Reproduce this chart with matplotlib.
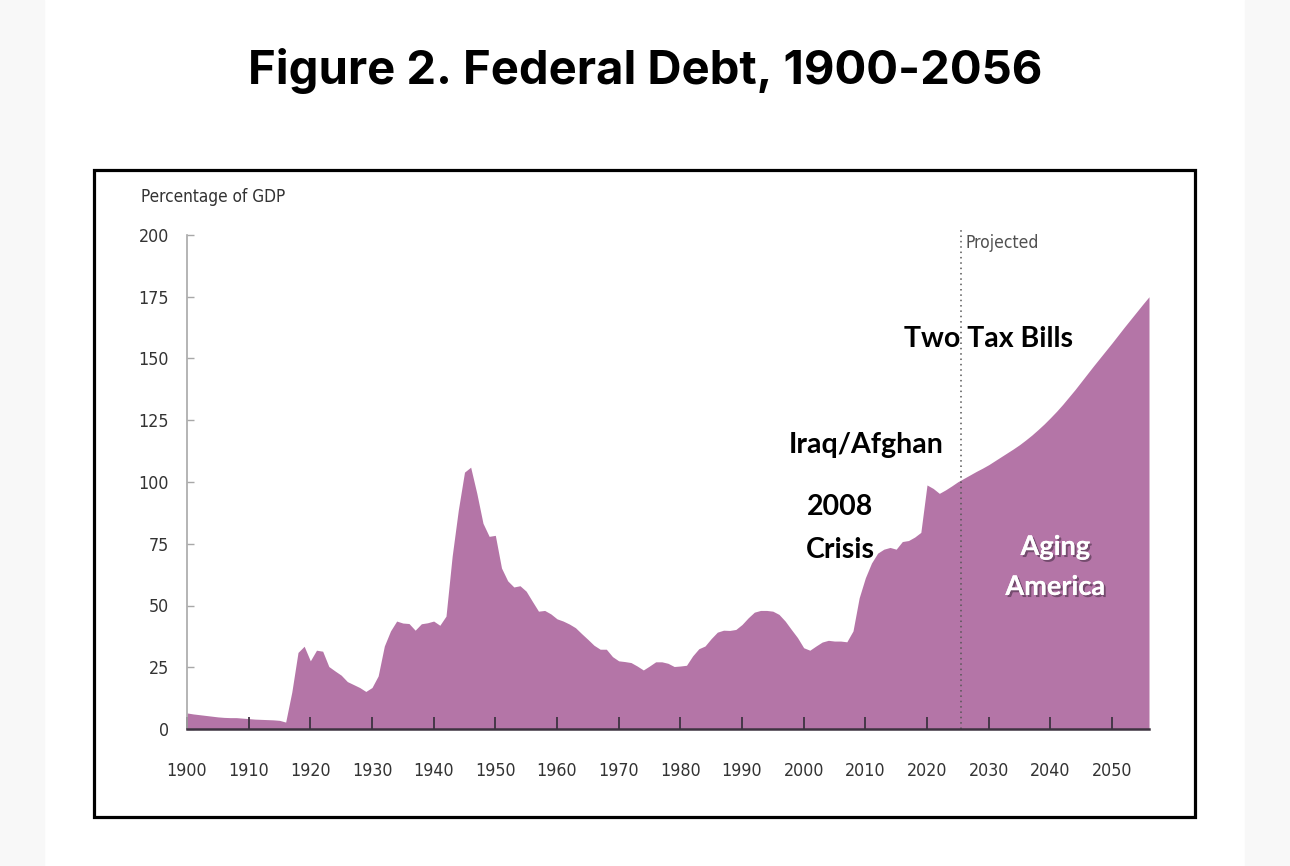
import matplotlib
matplotlib.use('Agg')
import matplotlib.pyplot as plt
import matplotlib.patheffects as pe
from matplotlib.patches import Rectangle
from matplotlib import font_manager

# federal debt held by the public, % of GDP
years = list(range(1900, 2057))
debt = [
    6.5, 6.1, 5.8, 5.5, 5.2, 4.9, 4.7, 4.6, 4.6, 4.4, 4.2, 4.0, 3.9, 3.8, 3.7, 3.5, 2.8,
    15, 31, 33.5, 27.6, 31.9, 31.5, 25.3, 23.5, 21.8, 19.2, 18, 16.8, 15.2,
    16.8, 21.5, 33.6, 39.7, 43.7, 42.9, 42.7, 40, 42.6, 43, 43.7, 42, 45.7,
    70, 88.7, 104, 106, 95.4, 83.3, 78, 78.4, 65.2, 60, 57.5, 58, 55.8, 51.7, 47.7, 48, 46.6,
    44.6, 43.7, 42.5, 41, 38.6, 36.3, 33.9, 32.3, 32.3, 29.3,
    27.6, 27.3, 26.9, 25.5, 23.9, 25.5, 27.2, 27.2, 26.6, 25.3,
    25.5, 25.8, 29.6, 32.5, 33.6, 36.6, 39.2, 40, 39.9, 40.3,
    42.3, 45, 47.3, 48, 48, 47.7, 46.4, 43.7, 40.3, 37,
    32.9, 31.9, 33.6, 35.2, 35.9, 35.6, 35.6, 35.3, 39.7, 53.1,
    61.2, 67.2, 71.2, 72.8, 73.5, 72.8, 75.9, 76.3, 77.7, 79.6,
    98.8, 97.4, 95.4, 96.8, 98.4, 100.1, 101.5, 102.9, 104.3, 105.6,
    107, 108.6, 110.2, 111.8, 113.4, 115.1, 117, 119, 121.2, 123.5,
    126, 128.6, 131.4, 134.4, 137.4, 140.6, 143.8, 147, 150.1, 153.2,
    156.3, 159.5, 162.7, 165.8, 168.9, 172, 175,
]
xticks = list(range(1900, 2051, 10))
yticks = [0, 25, 50, 75, 100, 125, 150, 175, 200]
proj_year = 2025.5

W, H = 1290, 866

# narrow font for axis text (the original uses a Calibri-like face)
narrow_file = None
for f in font_manager.fontManager.ttflist:
    if f.fname.endswith('DejaVuSansCondensed.ttf'):
        narrow_file = f.fname
if narrow_file:
    narrow = dict(fontproperties=font_manager.FontProperties(fname=narrow_file))
else:
    narrow = dict(family=['DejaVu Sans'], fontstretch='condensed')
bold = ['Lato', 'DejaVu Sans']

fig = plt.figure(figsize=(W / 100, H / 100), dpi=100)
fig.patch.set_facecolor('white')

# grey page margins
fig.patches.append(Rectangle((0, 0), 44 / W, 1, transform=fig.transFigure, color='#f8f8f8', zorder=0))
fig.patches.append(Rectangle((1245 / W, 0), 45 / W, 1, transform=fig.transFigure, color='#f8f8f8', zorder=0))
# black frame round the chart
fig.patches.append(Rectangle((94 / W, 1 - 817 / H), (1195 - 94) / W, (817 - 170) / H,
                             transform=fig.transFigure, fill=False, ec='black', lw=2.3, zorder=1))

ax = fig.add_axes([187 / W, 1 - 729 / H, (1149 - 187) / W, (729 - 235) / H])
ax.fill_between(years, 0, debt, color='#b475a7', lw=0)
ax.set_xlim(1900, 2056)
ax.set_ylim(0, 200)

ax.axvline(proj_year, ymin=0, ymax=1.01, color='#555555', lw=1.1, ls=(0, (1, 2.5)), clip_on=False)

for s in ['top', 'right']:
    ax.spines[s].set_visible(False)
ax.spines['left'].set_color('#a8a8a8')
ax.spines['left'].set_linewidth(1.2)
ax.spines['bottom'].set_color('#3d3340')
ax.spines['bottom'].set_linewidth(1.8)
ax.spines['bottom'].set_zorder(3)

ax.set_xticks(xticks)
ax.set_yticks(yticks)
ax.tick_params(axis='x', direction='in', length=9, width=1.3, color='#3d3340', pad=23.5,
               labelcolor='#333333')
ax.tick_params(axis='y', direction='in', length=5, width=1, color='#a8a8a8', pad=13,
               labelcolor='#333333')
for lab in ax.get_xticklabels() + ax.get_yticklabels():
    if 'fontproperties' in narrow:
        lab.set_fontproperties(narrow['fontproperties'])
    else:
        lab.set_family(narrow['family'])
        lab.set_fontstretch('condensed')
    lab.set_fontsize(12.8)

fig.text(141 / W, 1 - 197 / H, 'Percentage of GDP', fontsize=12.3, color='#333333',
         va='center', ha='left', **narrow)
ax.text(2026.3, 196.8, 'Projected', fontsize=12.5, color='#505050',
        va='center', ha='left', **narrow)

ann = dict(family=bold, fontweight='bold', fontsize=20.5, ha='center', va='center')
ax.text(2029.9, 157.9, 'Two Tax Bills', **ann)
ax.text(2010.1, 115, 'Iraq/Afghan', **ann)
ax.text(2005.9, 89.9, '2008', **ann)
ax.text(2005.9, 72.5, 'Crisis', **ann)

shadow = [pe.withSimplePatchShadow(offset=(1.5, -1.5), shadow_rgbFace='#4a3048', alpha=0.6), pe.Normal()]
for txt, yv in [('Aging', 73.7), ('America', 57.5)]:
    ax.text(2040.8, yv, txt, family=bold, fontweight='bold', fontsize=19.5, color='white',
            ha='center', va='center', path_effects=shadow)

fig.text(645 / W, 1 - 71 / H, 'Figure 2. Federal Debt, 1900-2056', family=['Inter', 'Lato', 'DejaVu Sans'],
         fontweight='bold', fontsize=34, ha='center', va='center', color='black')

fig.savefig('out.png', dpi=100)
